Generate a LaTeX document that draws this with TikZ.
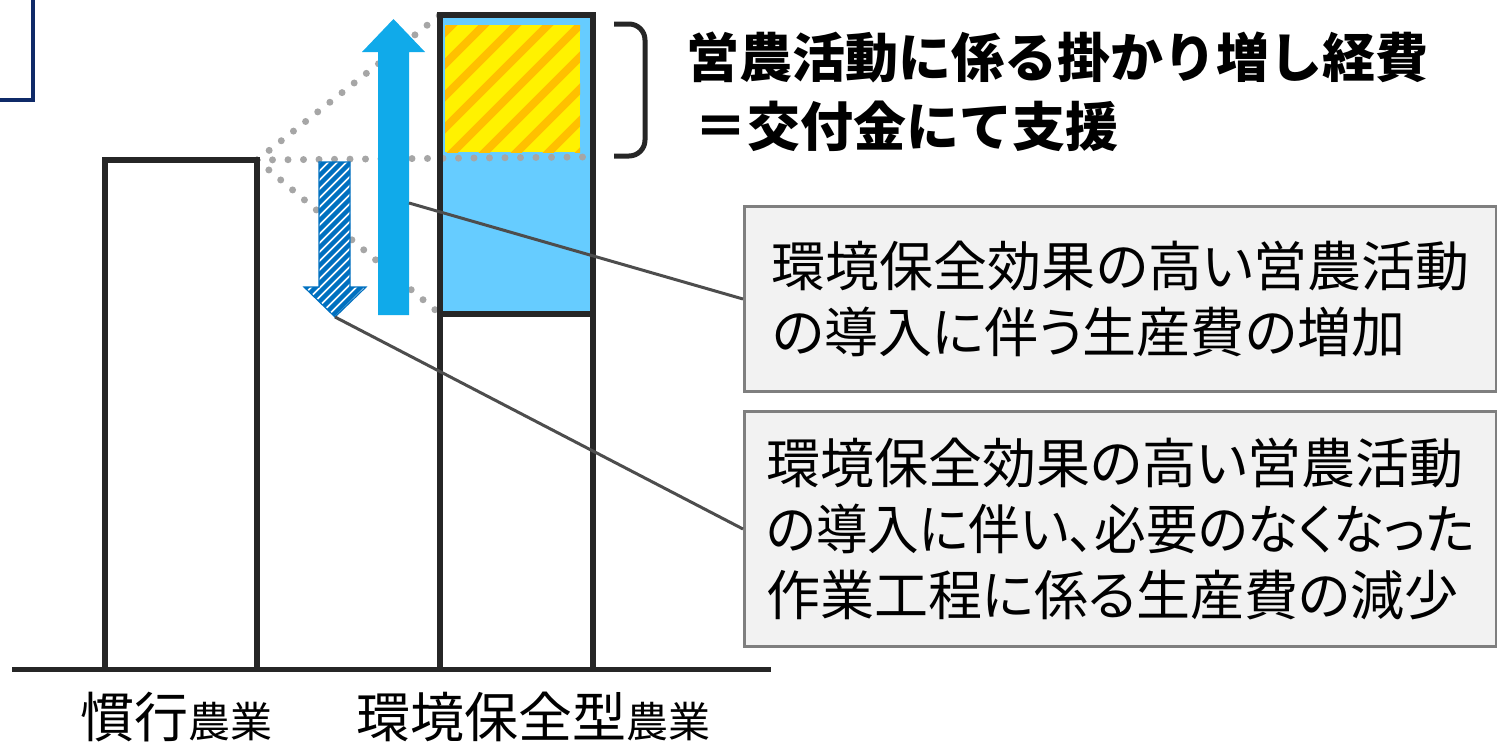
\documentclass[tikz,border=0pt]{standalone}
\usepackage{fontspec}
\usepackage{graphicx}
\newfontfamily\jp{Noto Sans CJK JP}[RawFeature=+palt]
\newfontfamily\jpfix{Noto Sans CJK JP}
\definecolor{navy}{HTML}{0F2A68}
\definecolor{barline}{HTML}{262626}
\definecolor{lightblue}{HTML}{66CCFF}
\definecolor{arrowblue}{HTML}{10AAEA}
\definecolor{stripeorange}{HTML}{FFC000}
\definecolor{hatchblue}{HTML}{0070C0}
\definecolor{dotgray}{HTML}{A6A6A6}
\definecolor{boxfill}{HTML}{F2F2F2}
\definecolor{boxline}{HTML}{7F7F7F}
\definecolor{leader}{HTML}{4D4D4D}
\tikzset{
  bar/.style={draw=barline, line width=6.5pt},
  dots/.style={draw=dotgray, line width=7pt, line cap=round, dash pattern=on 0pt off 15.5pt},
  infobox/.style={draw=boxline, fill=boxfill, line width=3pt, minimum width=752pt, inner sep=0pt, align=left, font=\jp\fontsize{54}{66}\selectfont, text=black},
  leaderline/.style={draw=leader, line width=3pt},
  headline/.style={anchor=base west, inner sep=0pt, font=\jpfix\bfseries\fontsize{53}{60}\selectfont},
}
\begin{document}
\begin{tikzpicture}[x=1pt,y=-1pt]
\path[use as bounding box] (0,0) rectangle (1497,744);
% navy frame corner
\draw[navy, line width=4pt] (0,100) -- (33,100) -- (33,-2);
% coordinates of bars
\coordinate (Ltl) at (105,160);
\coordinate (Ltr) at (257,160);
\coordinate (Rtl) at (440,15);
\coordinate (Rtr) at (593,15);
\coordinate (Rml) at (440,314);
\coordinate (Rmr) at (593,314);
\coordinate (Ymid) at (585,157);
% right bar fill
\fill[lightblue] (Rtl) rectangle (Rmr);
% yellow hatched rectangle
\fill[yellow] (445,25) rectangle (580,152);
\begin{scope}
\clip (445,25) rectangle (580,152);
\foreach \i in {-160,-128,...,160}
  \draw[stripeorange, line width=8pt] (445+\i,160) -- ++(180,-180);
\end{scope}
% dotted guide lines
\draw[dots] (Ltr) -- (Rtl);
\draw[dots] (Ltr) -- (Ymid);
\draw[dots] (Ltr) -- (Rml);
% bars
\draw[bar] (Ltl|-0,669) -- (Ltl) -- (Ltr) -- (Ltr|-0,669);
\draw[bar] (Rtl|-0,669) -- (Rtl) -- (Rtr) -- (Rtr|-0,669);
\draw[bar] (Rml) -- (Rmr);
% baseline
\draw[barline, line width=5pt] (12,669) -- (771,669);
% up arrow
\fill[arrowblue] (378,315) -- (378,52) -- (362,52) -- (393.5,19) -- (425,52) -- (409,52) -- (409,315) -- cycle;
\coordinate (upmid) at (409,203);
% down arrow (hatched)
\begin{scope}
\clip (319,162) -- (350,162) -- (350,287) -- (366,287) -- (335,317) -- (304,287) -- (319,287) -- cycle;
\fill[white] (300,160) rectangle (370,320);
\foreach \i in {-170,-161,...,60}
  \draw[hatchblue, line width=4.5pt] (300+\i,320) -- ++(170,-170);
\end{scope}
\draw[hatchblue, line width=1.2pt] (319,162) -- (350,162) -- (350,287) -- (366,287) -- (335,317) -- (304,287) -- (319,287) -- cycle;
\coordinate (downtip) at (335,317);
% bracket
\draw[barline, line width=5pt] (614,24) -- (629,24) to[out=0,in=90] (645,40) -- (645,140) to[out=-90,in=0] (629,156) -- (614,156);
% heading
\node[headline] (h1) at (686,77) {営農活動に係る掛かり増し経費};
\node[headline] (h2) at (694,146) {＝交付金にて支援};
% info boxes
\node[infobox, minimum height=185pt, anchor=north west] (b1) at (743,205) {環境保全効果の高い営農活動\\の導入に伴う生産費の増加};
\node[infobox, minimum height=235pt, anchor=north west] (b2) at (743,410) {環境保全効果の高い営農活動\\\scalebox{0.955}[1]{の導入に伴い、必要のなくなった}\\作業工程に係る生産費の減少};
% leaders
\draw[leaderline] (upmid) -- (b1.west);
\draw[leaderline] (downtip) -- (b2.west);
% bottom labels
\node[anchor=base west, inner sep=0pt] (l1) at (80,737) {\jpfix\fontsize{54}{54}\selectfont 慣行\fontsize{42}{42}\selectfont 農業};
\node[anchor=base west, inner sep=0pt] (l2) at (356,737) {\jpfix\fontsize{54}{54}\selectfont 環境保全型\fontsize{42}{42}\selectfont 農業};
\end{tikzpicture}
\end{document}
